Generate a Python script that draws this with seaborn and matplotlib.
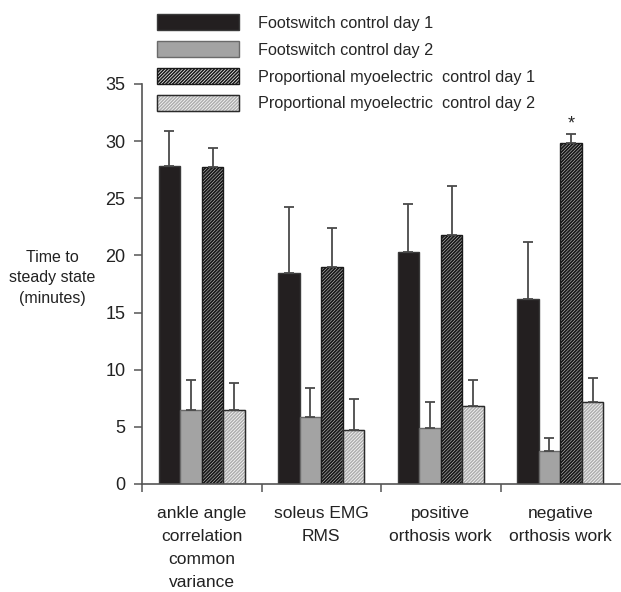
import pandas as pd
import matplotlib
matplotlib.use("Agg")
import matplotlib.pyplot as plt
import matplotlib.patches as mpatches
import seaborn as sns

# values (minutes)
measures = ["ankle angle\ncorrelation\ncommon\nvariance", "soleus EMG\nRMS",
            "positive\northosis work", "negative\northosis work"]
conditions = ["Footswitch control day 1", "Footswitch control day 2",
              "Proportional myoelectric  control day 1", "Proportional myoelectric  control day 2"]
fs_day1 = [27.8, 18.5, 20.3, 16.2]
fs_day2 = [6.5, 5.9, 4.9, 2.9]
pm_day1 = [27.7, 19.0, 21.8, 29.8]
pm_day2 = [6.5, 4.7, 6.8, 7.2]
fs_day1_sd = [3.1, 5.7, 4.2, 5.0]
fs_day2_sd = [2.6, 2.5, 2.3, 1.1]
pm_day1_sd = [1.7, 3.4, 4.3, 0.8]
pm_day2_sd = [2.3, 2.7, 2.3, 2.1]

means = [fs_day1, fs_day2, pm_day1, pm_day2]
sds = [fs_day1_sd, fs_day2_sd, pm_day1_sd, pm_day2_sd]

rows = []
for cond, vals in zip(conditions, means):
    for m, v in zip(measures, vals):
        rows.append({"measure": m, "condition": cond, "time": v})
df = pd.DataFrame(rows)

face = ["#231f20", "#a3a3a3", "white", "white"]
edge = ["#3a3a3a", "#6a6a6a", "#1a1a1a", "#b0b0b0"]
hatches = [None, None, "//////////", "//////////"]
hatch_lw = [1.0, 1.0, 1.4, 1.2]

sns.set_style("white")
plt.rcParams["font.family"] = ["Liberation Sans", "DejaVu Sans"]
plt.rcParams["hatch.linewidth"] = 1.2


def style_patch(p, i):
    p.set_facecolor(face[i])
    p.set_edgecolor(edge[i])
    p.set_linewidth(1.0)
    if hatches[i]:
        p.set_hatch(hatches[i])
        if hasattr(p, "set_hatch_linewidth"):
            p.set_hatch_linewidth(hatch_lw[i])


fig = plt.figure(figsize=(6.21, 5.92), dpi=100)
ax = fig.add_axes([142 / 621, 1 - 484 / 592, 478 / 621, 400 / 592])

sns.barplot(data=df, x="measure", y="time", hue="condition", order=measures,
            hue_order=conditions, width=0.72, gap=0, legend=False,
            errorbar=None, ax=ax)

bar_groups = list(ax.containers)
for i, cont in enumerate(bar_groups):
    for p in cont.patches:
        style_patch(p, i)
        if i == 3:
            # dark outline on top of the light hatching
            ax.add_patch(mpatches.Rectangle(p.get_xy(), p.get_width(), p.get_height(),
                                            fill=False, edgecolor="#2a2a2a", lw=1.0))
    xs = [p.get_x() + p.get_width() / 2 for p in cont.patches]
    ax.errorbar(xs, means[i], yerr=[[0] * len(xs), sds[i]], fmt="none",
                ecolor="#4a4a4a", elinewidth=1.3, capsize=3.8, capthick=1.3)

# significance marker over the myoelectric day-1 bar of the last measure
star_bar = bar_groups[2].patches[3]
ax.text(star_bar.get_x() + star_bar.get_width() / 2, pm_day1[3] + pm_day1_sd[3] + 0.9, "*",
        ha="center", va="center", fontsize=13)

ax.set_xlim(-0.5, 3.5)
ax.set_ylim(0, 35)
ax.set_yticks(range(0, 36, 5))
ax.set_xticks([-0.5, 0.5, 1.5, 2.5])
ax.set_xticklabels([])
ax.set_xticks(range(4), minor=True)
ax.set_xticklabels(measures, minor=True, fontsize=12.5, color="#222222", linespacing=1.66)
ax.tick_params(axis="x", which="minor", length=0, pad=16)
ax.tick_params(axis="x", which="major", direction="out", length=6, width=1.1, color="#555555", bottom=True)
ax.tick_params(axis="y", direction="out", length=6, width=1.1, color="#555555", left=True,
               labelsize=13, pad=6, labelcolor="#222222")
ax.set_xlabel("")
ax.set_ylabel("")
sns.despine(ax=ax)
for s in ["left", "bottom"]:
    ax.spines[s].set_color("#555555")
    ax.spines[s].set_linewidth(1.2)

fig.text(52 / 621, 1 - 278 / 592, "Time to\nsteady state\n(minutes)", ha="center", va="center",
         fontsize=11.5, color="#222222", linespacing=1.45)

handles = []
for i in range(4):
    h = mpatches.Patch()
    style_patch(h, i)
    handles.append(h)
handles[3] = (handles[3], mpatches.Patch(fill=False, edgecolor="#2a2a2a", lw=1.0))
fig.legend(handles, conditions, loc="upper left", bbox_to_anchor=(157 / 621, 1 - 14 / 592),
           frameon=False, fontsize=11.7, handlelength=5.05, handleheight=1.15, labelspacing=0.64,
           handletextpad=1.15, borderpad=0, borderaxespad=0)

fig.savefig("out.png", dpi=100)
